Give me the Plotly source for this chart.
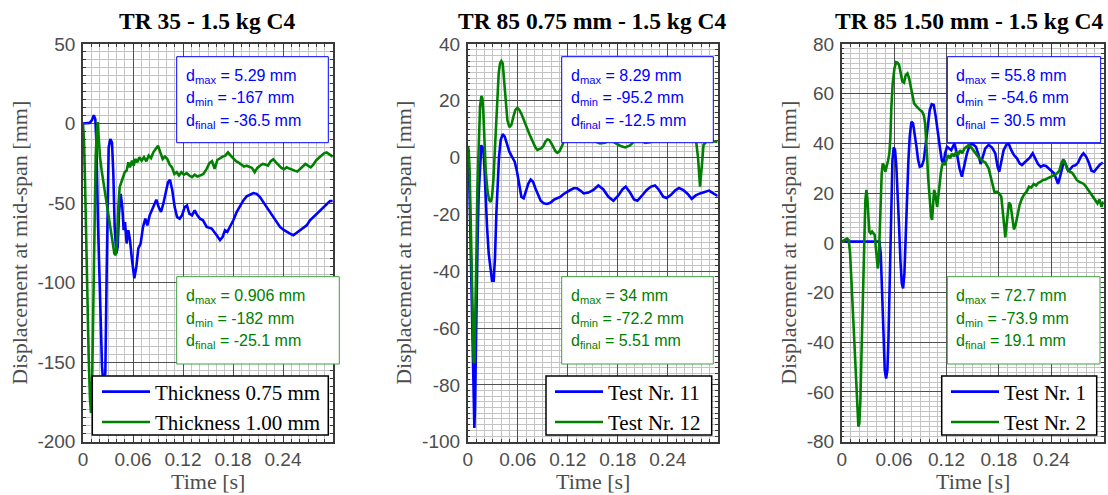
import plotly.graph_objects as go

W, H = 1108, 495

# ---------------- data ----------------
# TR 35 - 1.5 kg C4
t_thk075 = [0, 0.004, 0.008, 0.0108, 0.013, 0.0148, 0.016, 0.018, 0.0204, 0.0228, 0.0248, 0.0268, 0.0284,
            0.0296, 0.0308, 0.0328, 0.0348, 0.0364, 0.038, 0.04, 0.0416, 0.0432, 0.0452, 0.0472, 0.0488, 0.0504,
            0.0524, 0.0544, 0.0564, 0.0588, 0.0616, 0.064, 0.0664, 0.0692, 0.072, 0.0748, 0.0772, 0.08, 0.0828,
            0.0856, 0.088, 0.0908, 0.0936, 0.0964, 0.0992, 0.102, 0.1044, 0.1072, 0.11, 0.1128, 0.116, 0.1188,
            0.122, 0.1248, 0.1276, 0.1308, 0.134, 0.1372, 0.1404, 0.144, 0.1484, 0.1544, 0.1604, 0.1644, 0.1676,
            0.1704, 0.1732, 0.1764, 0.1804, 0.1844, 0.1884, 0.1924, 0.1964, 0.2004, 0.2044, 0.2084, 0.2124,
            0.2164, 0.2204, 0.2244, 0.2284, 0.2324, 0.2364, 0.2404, 0.2444, 0.2484, 0.2524, 0.2564, 0.2604,
            0.2644, 0.2684, 0.2724, 0.2764, 0.2804, 0.2844, 0.2884, 0.2924, 0.2964, 0.2996]
d_thk075 = [0, 0, 0.4, 2.1, 5.29, 2.7, -10.8, -62.9, -115, -152.5, -167, -156.6, -94, -42, -15, -9.8, -11.9,
            -31.7, -65, -81.7, -77.5, -56.7, -44.2, -52.5, -67, -61.9, -75.4, -67, -73.3, -85.8, -97.3, -90,
            -78.5, -75.4, -65, -59.8, -64, -57.7, -54.6, -50.4, -47.9, -52.5, -55.6, -50.4, -43.1, -36.9, -35.4,
            -42.1, -52.5, -58.7, -59.8, -57.7, -52.5, -51.5, -56.7, -57.7, -54.6, -57.7, -59.8, -60.8, -65, -66,
            -70.2, -73.3, -71.2, -67.1, -68.1, -65, -60.8, -55.6, -51.5, -48.3, -45.8, -44.6, -43.7, -44.2,
            -46.2, -49.4, -52.5, -55.6, -58.7, -62.5, -65, -66.7, -68.1, -69.2, -70.2, -68.7, -67.1, -65.4, -64,
            -60.8, -58.7, -56.7, -54.6, -52.5, -50.4, -48.7, -48.7]

t_thk100 = [0, 0.0012, 0.0024, 0.0036, 0.0052, 0.0068, 0.0084, 0.0096, 0.0108, 0.0116, 0.0128, 0.014, 0.0152,
            0.0164, 0.0176, 0.0188, 0.0204, 0.0224, 0.0248, 0.0276, 0.0304, 0.0332, 0.0356, 0.0376, 0.0392,
            0.0408, 0.0424, 0.044, 0.046, 0.048, 0.05, 0.0524, 0.0544, 0.0564, 0.0588, 0.0608, 0.0628, 0.0652,
            0.0676, 0.0704, 0.0732, 0.076, 0.0788, 0.0816, 0.0844, 0.0872, 0.09, 0.0928, 0.0956, 0.0984, 0.1012,
            0.104, 0.1068, 0.1096, 0.1124, 0.1152, 0.118, 0.1212, 0.1244, 0.1276, 0.1308, 0.134, 0.1372, 0.1404,
            0.1444, 0.1484, 0.1516, 0.1548, 0.158, 0.1612, 0.1644, 0.1676, 0.1708, 0.174, 0.1772, 0.1804,
            0.1836, 0.1868, 0.19, 0.1932, 0.1964, 0.1996, 0.2028, 0.206, 0.2092, 0.2124, 0.2156, 0.2188, 0.222,
            0.2252, 0.2284, 0.2316, 0.2348, 0.238, 0.2412, 0.2444, 0.2476, 0.2508, 0.254, 0.2572, 0.2604,
            0.2636, 0.2668, 0.27, 0.2732, 0.2764, 0.2796, 0.2828, 0.286, 0.2892, 0.2924, 0.2956, 0.2996]
d_thk100 = [0, -10.8, -35.8, -73.3, -115, -146.2, -173.3, -182, -167, -135.8, -94.2, -52.5, -21.2, -6.7, 0.906,
            -8.7, -21.2, -29.6, -37.9, -46.2, -56.7, -65, -73.3, -81.7, -82.7, -73.3, -52.5, -40, -36.9, -33.7,
            -30.6, -29.6, -24.4, -27.5, -23.3, -26.5, -22.3, -24.4, -21.2, -23.3, -21.2, -23.7, -20.2, -21.7,
            -18.1, -16, -14, -18.1, -22.3, -20.8, -22.3, -25.8, -27.5, -31.7, -30.6, -32.7, -30.6, -32.1, -31.2,
            -32.7, -33.7, -32.1, -33.3, -32.7, -31.7, -28.5, -25, -23.7, -28.5, -22.9, -21.7, -20.8, -20.2,
            -18.1, -20.2, -22.3, -23.7, -24.6, -25.8, -27.1, -26.5, -27.1, -27.9, -30.6, -27.9, -26.5, -25.4,
            -25.8, -26.5, -23.7, -22.5, -24.4, -26.5, -27.9, -28.7, -27.5, -28.3, -29.2, -29.6, -30.2, -28.5,
            -26.5, -25.4, -26.5, -27.5, -25.8, -23.3, -21.7, -20.2, -18.7, -18.1, -19.2, -20.8]

# TR 85 0.75 mm - 1.5 kg C4
t_test11 = [0, 0.0012, 0.0024, 0.0036, 0.0048, 0.006, 0.0072, 0.008, 0.0088, 0.0096, 0.0108, 0.012, 0.0132,
            0.0148, 0.0164, 0.0176, 0.0188, 0.02, 0.0216, 0.0232, 0.0252, 0.0272, 0.0292, 0.0312, 0.0328,
            0.0344, 0.036, 0.0376, 0.0396, 0.042, 0.0444, 0.0472, 0.05, 0.0532, 0.0564, 0.0592, 0.062, 0.0644,
            0.0672, 0.07, 0.0728, 0.0756, 0.0784, 0.0812, 0.0844, 0.0876, 0.0912, 0.0952, 0.0992, 0.1032,
            0.1072, 0.1112, 0.1152, 0.1192, 0.1232, 0.1272, 0.1312, 0.1352, 0.1392, 0.1448, 0.1508, 0.1568,
            0.1628, 0.1688, 0.1748, 0.1808, 0.1856, 0.1896, 0.1948, 0.1996, 0.2036, 0.2088, 0.2148, 0.22,
            0.2248, 0.2296, 0.2348, 0.2388, 0.244, 0.2488, 0.2536, 0.2588, 0.264, 0.2688, 0.2736, 0.2788,
            0.2848, 0.2896, 0.2948, 0.3]
d_test11 = [3.85, -0.85, -14.9, -34.9, -52.5, -70.1, -87.7, -95.2, -87.7, -70.1, -46.6, -26.7, -12.6, -0.85,
            4.4, 2.7, 3.85, -3.2, -14.9, -24.3, -33.7, -39.6, -43.3, -43.3, -34.9, -19.6, -7.9, 0.3, 6.2, 8.29,
            7.4, 4.4, 2.1, 0.3, -1.4, -5, -10.2, -13.8, -14.3, -12, -9.1, -7.7, -8.5, -10.8, -13.2, -15.2,
            -16.1, -16.3, -15.9, -14.9, -14.3, -13.8, -12.8, -12, -11.4, -10.8, -10.8, -11.6, -12.6, -12.3,
            -11.4, -9.8, -11.2, -13.8, -15.2, -13.3, -11.2, -10.2, -12.3, -14.7, -15.2, -13.5, -11.4, -10.2,
            -9.8, -11.4, -13.8, -14.2, -13.1, -11.6, -10.7, -11.4, -12.8, -14.5, -13.3, -12.6, -12, -11.6,
            -12.6, -13.5]

t_test12 = [0, 0.0012, 0.0024, 0.0036, 0.0048, 0.006, 0.0072, 0.008, 0.0092, 0.0104, 0.0116, 0.0132, 0.0148,
            0.0164, 0.0176, 0.0188, 0.02, 0.0216, 0.0236, 0.0256, 0.0276, 0.0292, 0.0308, 0.0324, 0.034,
            0.0356, 0.0372, 0.0388, 0.0404, 0.042, 0.0436, 0.0456, 0.0476, 0.05, 0.0524, 0.0548, 0.0572,
            0.0596, 0.062, 0.0644, 0.0668, 0.0692, 0.0716, 0.074, 0.0764, 0.0788, 0.0812, 0.0836, 0.086,
            0.0884, 0.0908, 0.0932, 0.0956, 0.098, 0.1004, 0.1028, 0.1052, 0.1076, 0.11, 0.1124, 0.1148,
            0.1228, 0.1324, 0.142, 0.1516, 0.1588, 0.1648, 0.1708, 0.1768, 0.1828, 0.1888, 0.1948, 0.2008,
            0.2068, 0.2128, 0.2188, 0.226, 0.2332, 0.2404, 0.2476, 0.2548, 0.262, 0.2692, 0.274, 0.2764,
            0.2788, 0.2812, 0.283, 0.2876, 0.2936, 0.3]
d_test12 = [4.1, 2.7, -5.5, -23.1, -43.1, -61.9, -71.9, -72.2, -58.4, -34.9, -11.4, 6.2, 17.9, 21.7, 20.9,
            15.6, 6.2, -4.4, -11.4, -14.9, -15.6, -13.8, -7.9, 2.7, 14.4, 23.8, 29.7, 33.2, 34, 33.2, 27.3,
            19.1, 13.2, 10.7, 11.5, 14.4, 16.8, 17.5, 16.8, 15.4, 13.5, 11.8, 10, 8.3, 6.7, 4.8, 3.6, 2.7, 2.9,
            3.3, 4.1, 5.6, 6.4, 6.2, 5, 3.6, 2.3, 1.7, 2.2, 3.6, 5.3, 7.5, 8.5, 7, 5.8, 5, 5.2, 6.5, 5.2, 4.2,
            3.6, 4.3, 6, 6.5, 5.2, 5.4, 7, 8, 7, 6, 7.5, 8, 7, 6, 0, -10.2, -2, 4.5, 6, 5.8, 5.51]

# TR 85 1.50 mm - 1.5 kg C4
t_test1 = [0, 0.0432, 0.0447, 0.0462, 0.0478, 0.0493, 0.0508, 0.0523, 0.0535, 0.0546, 0.0558, 0.0569, 0.0581,
           0.0596, 0.0611, 0.0626, 0.0642, 0.0657, 0.0672, 0.0688, 0.0703, 0.0718, 0.0733, 0.0749, 0.0764,
           0.0779, 0.0798, 0.0817, 0.0837, 0.0856, 0.0875, 0.0894, 0.0917, 0.094, 0.0963, 0.0986, 0.1008,
           0.1031, 0.1054, 0.1077, 0.11, 0.1123, 0.1146, 0.1165, 0.1184, 0.1207, 0.1254, 0.1292, 0.1322,
           0.1349, 0.1376, 0.1403, 0.1434, 0.1464, 0.1491, 0.1537, 0.1568, 0.1591, 0.1613, 0.1644, 0.1682,
           0.172, 0.1759, 0.1785, 0.1804, 0.1827, 0.1854, 0.1885, 0.1911, 0.1942, 0.1972, 0.2007, 0.2037,
           0.2064, 0.2095, 0.2125, 0.2156, 0.2187, 0.2217, 0.2248, 0.2278, 0.2309, 0.234, 0.237, 0.2401,
           0.2431, 0.2454, 0.2477, 0.25, 0.2523, 0.2546, 0.2569, 0.2592, 0.2615, 0.2646, 0.2676, 0.2707,
           0.2738, 0.2768, 0.2799, 0.2829, 0.286, 0.289, 0.2921, 0.2952, 0.299]
d_test1 = [0.5, 0.5, -4.2, -19, -36.4, -51.2, -54.6, -51.2, -39.1, -23, -1.5, 18.6, 33.3, 38.4, 37.3, 30.6,
           19.9, 6.5, -6.9, -16.3, -18.3, -12.3, 2.5, 19.9, 33.3, 42.7, 48.7, 48.1, 44.1, 38.7, 33.3, 30.6,
           30.9, 33.3, 40, 48.1, 53.4, 55.8, 55.5, 50.8, 44.1, 38.7, 33.3, 31.7, 36, 38.7, 37.3, 40, 35.3, 30,
           26.6, 30.6, 36, 39, 40, 38.7, 35.3, 31.7, 34, 38, 39.4, 38.4, 36, 30.6, 28.6, 33.3, 37.3, 39.4, 40,
           37.3, 35.3, 34, 32, 31.3, 32.3, 33.1, 34.4, 36, 34, 31.7, 30.6, 31.2, 30.9, 30, 29, 28, 26, 23.7,
           26.6, 30.6, 33.1, 31.3, 29, 29.6, 30.9, 31.2, 32.3, 34.7, 36, 34.7, 32.3, 29, 28.6, 30, 31.3, 32.3]

t_test2 = [0, 0.0031, 0.0061, 0.008, 0.0096, 0.0111, 0.0126, 0.0141, 0.0157, 0.0168, 0.018, 0.0191, 0.0202,
           0.0214, 0.0225, 0.0237, 0.0248, 0.026, 0.0271, 0.0283, 0.0294, 0.0306, 0.0317, 0.0332, 0.0348,
           0.0363, 0.0378, 0.039, 0.0401, 0.0413, 0.0424, 0.0435, 0.0447, 0.0458, 0.047, 0.0485, 0.05, 0.0516,
           0.0531, 0.0546, 0.0558, 0.0569, 0.0584, 0.0604, 0.0623, 0.0638, 0.0657, 0.0676, 0.0695, 0.0714,
           0.0733, 0.0753, 0.0772, 0.0791, 0.081, 0.0829, 0.0852, 0.0875, 0.0898, 0.0921, 0.094, 0.0955,
           0.0966, 0.0978, 0.0989, 0.1001, 0.1012, 0.1024, 0.1035, 0.1047, 0.1058, 0.107, 0.1081, 0.1093,
           0.1104, 0.1119, 0.1135, 0.115, 0.1165, 0.118, 0.1196, 0.1219, 0.1242, 0.1264, 0.1287, 0.131,
           0.1333, 0.1356, 0.1379, 0.1406, 0.1433, 0.1453, 0.1491, 0.153, 0.1568, 0.1606, 0.1644, 0.1682,
           0.1705, 0.1728, 0.1751, 0.1778, 0.1804, 0.1827, 0.1846, 0.1862, 0.1873, 0.1885, 0.19, 0.1915,
           0.1934, 0.1953, 0.1972, 0.1991, 0.2015, 0.2037, 0.2064, 0.2091, 0.2118, 0.2145, 0.2171, 0.2198,
           0.2225, 0.2252, 0.2278, 0.2305, 0.2332, 0.2359, 0.2385, 0.2412, 0.2439, 0.2466, 0.2492, 0.2515,
           0.2538, 0.2561, 0.2584, 0.2611, 0.2638, 0.2664, 0.2691, 0.2718, 0.2745, 0.2772, 0.2798, 0.2825,
           0.2852, 0.2879, 0.2906, 0.2929, 0.2952, 0.2975, 0.2998]
d_test2 = [0.5, 1.1, 1.7, 1.1, -4.2, -15, -27, -36.4, -45.8, -56.5, -67.3, -73.9, -72.6, -63.2, -47.1, -28.4,
           -9.6, 5.2, 17.2, 21.3, 17.9, 10.5, 4.5, 3.8, 4.5, 3.8, 3.2, -1.5, -6.9, -10.3, -7.6, 3.8, 17.2, 28,
           32, 30.9, 28.6, 30.6, 33.1, 36, 42.7, 54.8, 64.2, 70.2, 72.7, 72.5, 71.6, 68.2, 64.8, 64.4, 67.5,
           68.2, 66.2, 62.8, 58.8, 56.1, 55.1, 54.1, 53.4, 52.8, 51.4, 48.1, 42.7, 34.7, 26.6, 19.9, 14.5,
           10.5, 9.2, 14.5, 21.3, 19.9, 15.9, 14.5, 17.9, 23.9, 28, 31.3, 32, 31.3, 33.3, 35.3, 34, 36, 34.7,
           36.7, 35.3, 37.3, 36, 38, 38.7, 39.4, 38, 36, 34.4, 33.1, 32.3, 30, 26.6, 22.6, 20.2, 20.6, 19.9,
           18.6, 13.2, 6.5, 2.2, 6.5, 13.9, 16.2, 15.2, 10.5, 5.4, 7.2, 11.9, 15.2, 17.9, 19.6, 20.6, 22.6,
           22.3, 23.7, 23.1, 24.2, 24.6, 25.3, 25.5, 25.9, 26.4, 26.6, 27.3, 28, 29, 32, 33.6, 31.7, 29.6,
           28.6, 28.2, 26.9, 25.3, 24.6, 24.2, 23.7, 22.6, 21.3, 19.9, 18.6, 17.5, 15.9, 17.5, 14.5, 16.6]

titles = ["TR 35 - 1.5 kg C4", "TR 85 0.75 mm - 1.5 kg C4", "TR 85 1.50 mm - 1.5 kg C4"]
legend_names = [["Thickness 0.75 mm", "Thickness 1.00 mm"],
                ["Test Nr. 11", "Test Nr. 12"],
                ["Test Nr. 1", "Test Nr. 2"]]
series = [[(t_thk075, d_thk075), (t_thk100, d_thk100)],
          [(t_test11, d_test11), (t_test12, d_test12)],
          [(t_test1, d_test1), (t_test2, d_test2)]]
# statistics: [blue, green] per panel -> (max, min, final)
stats = [[("5.29", "-167", "-36.5"), ("0.906", "-182", "-25.1")],
         [("8.29", "-95.2", "-12.5"), ("34", "-72.2", "5.51")],
         [("55.8", "-54.6", "30.5"), ("72.7", "-73.9", "19.1")]]
y_ranges = [(-200, 50), (-100, 40), (-80, 80)]
y_major = [50, 20, 20]
y_minor = [5, 2, 2]
x_ticks = [0, 0.06, 0.12, 0.18, 0.24]
x_ticktext = ["0", "0.06", "0.12", "0.18", "0.24"]

# ---------------- layout geometry (pixels) ----------------
ax_left = [83, 467.7, 841.7]
ax_right = [333, 717.7, 1103.7]
ax_top, ax_bottom = 44, 441.7
title_cx = [207, 592, 969]
ylabel_x = [20, 404, 789]
blue_box = [(176.7, 328.3), (561.7, 713.3), (947.3, 1100.7)]
green_box = [(176.7, 339.3), (561.7, 713.3), (947.3, 1100.0)]
legend_box = [(92.3, 328.3), (546, 711.7), (941.7, 1096.7)]
legend_line_x = [103, 556, 952]
legend_top, legend_bottom = 376, 435

def fx(p):
    return p / W

def fy(p):
    return 1 - p / H

colors = ["#0000ff", "#008000"]
box_line = ["#0000ff", "#3f9f3f"]
tick_col = "#4d4d4d"

fig = go.Figure()
shapes, annotations = [], []

for i in range(3):
    xa = "x" if i == 0 else f"x{i + 1}"
    ya = "y" if i == 0 else f"y{i + 1}"
    leg = "legend" if i == 0 else f"legend{i + 1}"
    for k in range(2):
        t, d = series[i][k]
        fig.add_trace(go.Scatter(x=t, y=d, mode="lines", name=legend_names[i][k],
                                 line=dict(color=colors[k], width=2.6),
                                 xaxis=xa, yaxis=ya, legend=leg))

    lo, hi = y_ranges[i]
    yvals = list(range(lo, hi + 1, y_major[i]))
    axis_common = dict(showline=True, linecolor="#3a3a3a", linewidth=1.5, mirror="allticks",
                       ticks="inside", ticklen=5, tickcolor="#3a3a3a", tickwidth=1,
                       showgrid=True, gridcolor="#505050", gridwidth=1.2, zeroline=False,
                       automargin=False,
                       tickfont=dict(family="Liberation Sans", size=19, color=tick_col))
    xkey = "xaxis" if i == 0 else f"xaxis{i + 1}"
    ykey = "yaxis" if i == 0 else f"yaxis{i + 1}"
    fig.update_layout({
        xkey: dict(axis_common, domain=[fx(ax_left[i]), fx(ax_right[i])], range=[0, 0.3],
                   anchor=ya, tickmode="array", tickvals=x_ticks, ticktext=x_ticktext,
                   ticklabelstandoff=0,
                   minor=dict(tickmode="linear", tick0=0, dtick=0.01, showgrid=True,
                              gridcolor="#c4c4c4", gridwidth=1, ticks="inside", ticklen=3,
                              tickcolor="#3a3a3a")),
        ykey: dict(axis_common, domain=[fy(ax_bottom), fy(ax_top)], range=[lo, hi],
                   anchor=xa, tickmode="array", tickvals=yvals, ticktext=[str(v) for v in yvals],
                   ticklabelstandoff=2,
                   minor=dict(tickmode="linear", tick0=lo, dtick=y_minor[i], showgrid=True,
                              gridcolor="#c4c4c4", gridwidth=1, ticks="inside", ticklen=3,
                              tickcolor="#3a3a3a")),
        leg: dict(x=fx(legend_line_x[i] - 6), y=fy((legend_top + legend_bottom) / 2 + 1.5),
                  xanchor="left", yanchor="middle",
                  bgcolor="rgba(0,0,0,0)", borderwidth=0,
                  font=dict(family="Liberation Serif", size=21, color="black"),
                  itemwidth=48, tracegroupgap=0),
    })

    # legend frame
    lx0, lx1 = legend_box[i]
    shapes.append(dict(type="rect", xref="paper", yref="paper", x0=fx(lx0), x1=fx(lx1),
                       y0=fy(legend_bottom), y1=fy(legend_top), fillcolor="white",
                       line=dict(color="black", width=1.5), layer="above"))

    cx = (ax_left[i] + ax_right[i]) / 2
    annotations.append(dict(text=f"<b>{titles[i]}</b>", x=fx(title_cx[i]), y=fy(21), xref="paper",
                            yref="paper", xanchor="center", yanchor="middle", showarrow=False,
                            font=dict(family="Liberation Serif", size=23.5, color="black")))
    annotations.append(dict(text="Time [s]", x=fx(cx), y=fy(481), xref="paper", yref="paper",
                            xanchor="center", yanchor="middle", showarrow=False,
                            font=dict(family="Liberation Serif", size=22, color=tick_col)))
    annotations.append(dict(text="Displacement at mid-span [mm]", x=fx(ylabel_x[i]),
                            y=fy((ax_top + ax_bottom) / 2), xref="paper", yref="paper",
                            xanchor="center", yanchor="middle", textangle=-90, showarrow=False,
                            font=dict(family="Liberation Serif", size=22, color=tick_col)))

    for k, (box, top, bottom) in enumerate([(blue_box[i], 56.7, 142.7), (green_box[i], 276.7, 364)]):
        x0, x1 = box
        shapes.append(dict(type="rect", xref="paper", yref="paper", x0=fx(x0), x1=fx(x1),
                           y0=fy(bottom), y1=fy(top), fillcolor="white",
                           line=dict(color=box_line[k], width=1), layer="above"))
        labels = ["max", "min", "final"]
        mid = (top + bottom) / 2 - 1
        for j, val in enumerate(stats[i][k]):
            annotations.append(dict(text=f"d<sub>{labels[j]}</sub> = {val} mm",
                                    x=fx(x0 + 7), y=fy(mid + (j - 1) * 22.5), xref="paper",
                                    yref="paper", xanchor="left", yanchor="middle", align="left",
                                    showarrow=False,
                                    font=dict(family="Liberation Sans", size=16, color=colors[k])))

fig.update_layout(width=W, height=H, margin=dict(l=0, r=0, t=0, b=0, autoexpand=False),
                  paper_bgcolor="white", plot_bgcolor="white",
                  shapes=shapes, annotations=annotations, showlegend=True)

fig.write_html("out.html")
